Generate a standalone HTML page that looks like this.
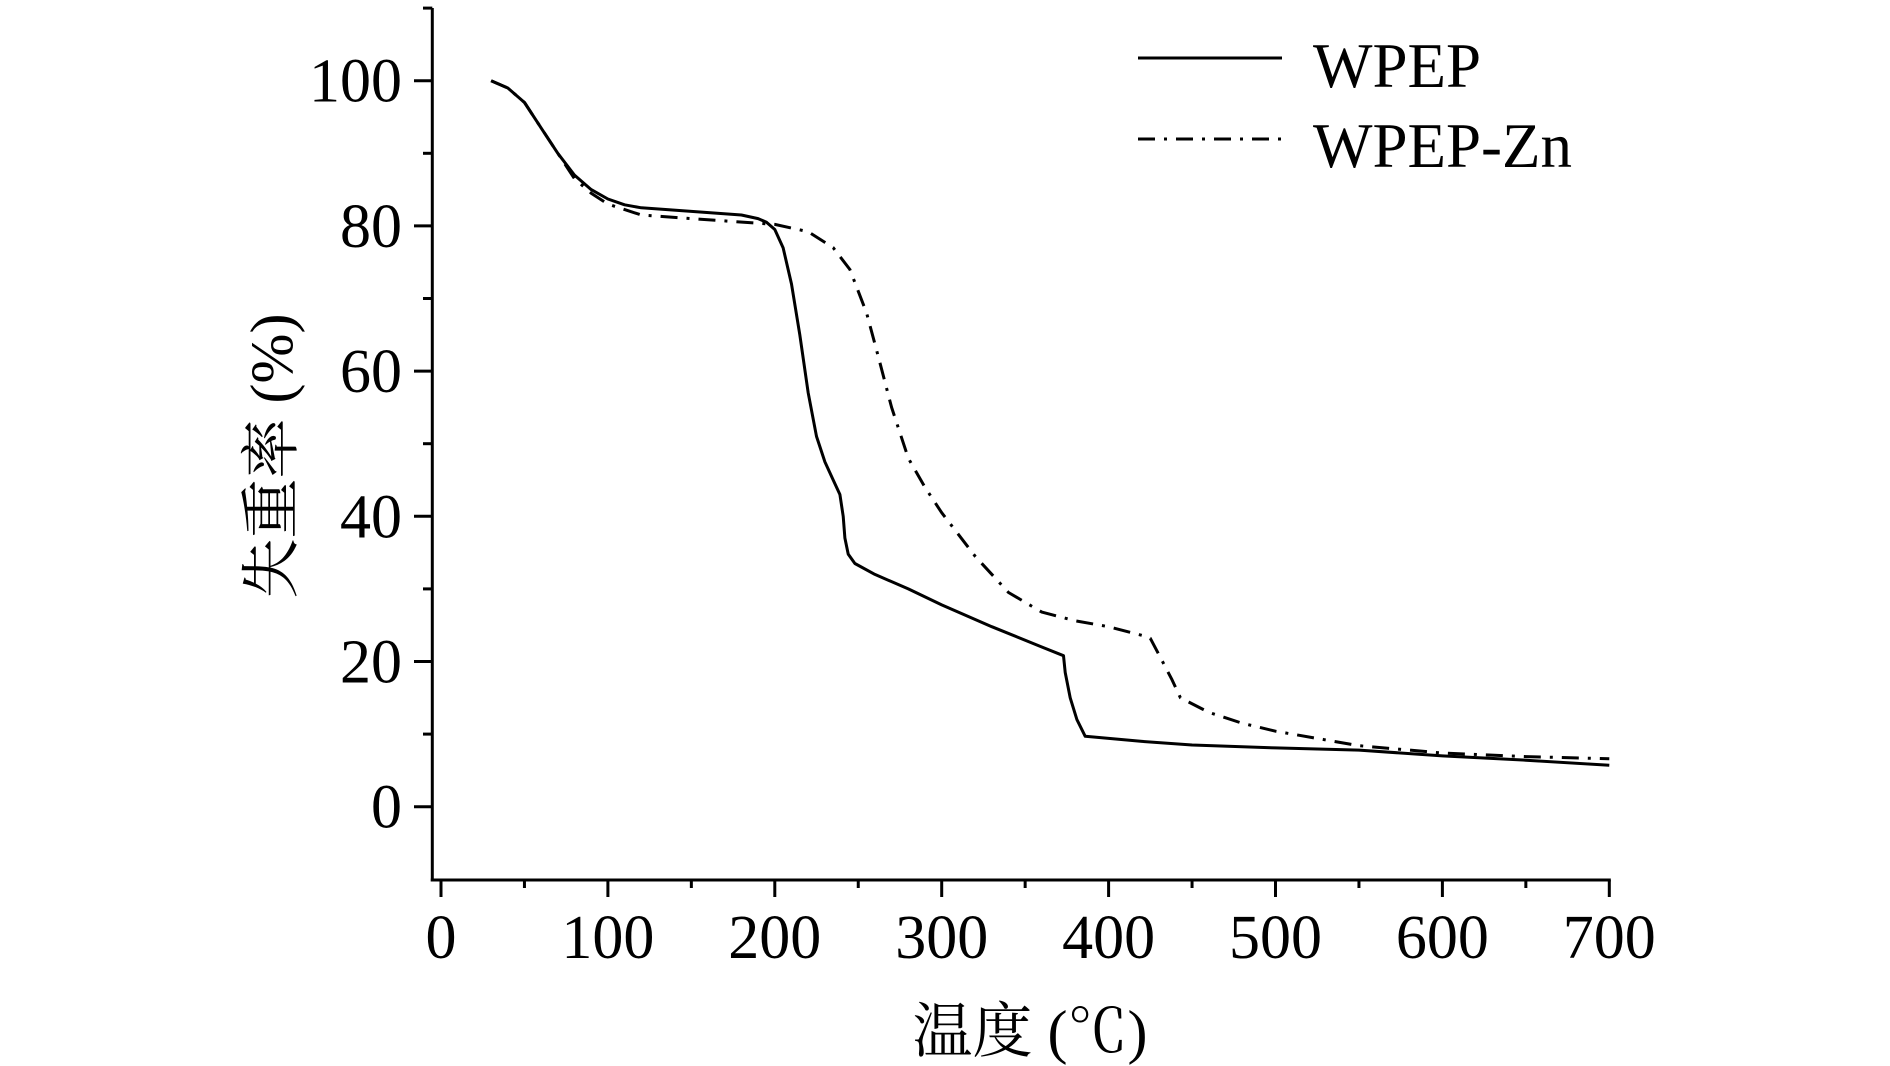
<!DOCTYPE html>
<html><head><meta charset="utf-8"><style>
html,body{margin:0;padding:0;background:#fff;}
svg{display:block;}
text{font-family:"Liberation Serif","Noto Serif CJK SC",serif;fill:#000;}
</style></head><body>
<svg id="s" width="1890" height="1066" viewBox="0 0 1890 1066" xmlns="http://www.w3.org/2000/svg">
<g stroke="#000" stroke-width="3" fill="none">
<line x1="432.3" y1="8" x2="432.3" y2="881.5"/>
<line x1="430.8" y1="880" x2="1610.8" y2="880"/>
</g>
<g id="ticks" stroke="#000" stroke-width="3"></g>
<g id="labels" font-size="62"></g>
<path id="p1" fill="none" stroke="#000" stroke-width="3" stroke-linejoin="round"/>
<path id="p2" fill="none" stroke="#000" stroke-width="3" stroke-dasharray="17 9 3 9" stroke-linejoin="round"/>
<line x1="1138" y1="58" x2="1282" y2="58" stroke="#000" stroke-width="3"/>
<line x1="1138" y1="139" x2="1282" y2="139" stroke="#000" stroke-width="3" stroke-dasharray="17 9 3 9"/>
<text x="1313" y="87" font-size="63">WPEP</text>
<text x="1313" y="167" font-size="63">WPEP-Zn</text>
<text x="1030" y="1052" font-size="60" text-anchor="middle">温度 (℃)</text>
<text transform="translate(292,456) rotate(-90)" font-size="60" text-anchor="middle">失重率 (%)</text>
</svg>
<script>
var X=function(v){return 441+v*1.6690;},Y=function(v){return 806.7-v*7.26;};
var t=document.getElementById('ticks'),l=document.getElementById('labels'),ns='http://www.w3.org/2000/svg';
function ln(a,b,c,d){var e=document.createElementNS(ns,'line');e.setAttribute('x1',a);e.setAttribute('y1',b);e.setAttribute('x2',c);e.setAttribute('y2',d);t.appendChild(e);}
function tx(x,y,s,anc){var e=document.createElementNS(ns,'text');e.setAttribute('x',x);e.setAttribute('y',y);e.setAttribute('text-anchor',anc);e.textContent=s;l.appendChild(e);}
for(var v=0;v<=700;v+=50){var x=X(v);if(v%100==0){ln(x,880,x,897);tx(x,958,String(v),'middle');}else ln(x,880,x,888);}
for(var v=-10;v<=110;v+=10){if(v==-10)continue;var y=Y(v);if(v%20==0){ln(432.3,y,414,y);tx(402,y+21,String(v),'end');}else ln(432.3,y,423,y);}
var d1=[[30,100],[40,99],[50,97],[60,93.5],[70,90],[80,87],[90,85],[100,83.7],[110,82.9],[120,82.5],[150,82],[180,81.5],[190,81],[195,80.5],[200,79.5],[205,77],[210,72],[215,65],[220,57],[225,51],[230,47.5],[235,45],[239,43],[241,40],[242,37],[244,34.8],[248,33.5],[260,32],[280,30],[300,27.8],[330,24.8],[360,22],[373,20.8],[374,18.5],[377,15],[381,12],[386,9.7],[420,9],[450,8.5],[500,8.1],[550,7.8],[600,7],[650,6.4],[700,5.7]];
var d2=[[30,100],[40,99],[50,97],[60,93.5],[70,90],[80,86.5],[90,84.5],[100,83],[120,81.5],[150,81],[200,80.2],[220,79.2],[235,77],[245,74],[255,68],[262,62],[270,55],[280,48],[290,44],[300,40.5],[320,34.5],[340,29.5],[360,26.8],[380,25.6],[400,24.8],[420,23.6],[425,23.2],[430,21],[438,17.5],[443,15],[460,13],[480,11.5],[500,10.4],[550,8.4],[600,7.4],[650,6.9],[700,6.6]];
function mk(d){return 'M'+d.map(function(p){return X(p[0]).toFixed(1)+','+Y(p[1]).toFixed(1);}).join(' L');}
document.getElementById('p1').setAttribute('d',mk(d1));
document.getElementById('p2').setAttribute('d',mk(d2));
</script>
</body></html>
